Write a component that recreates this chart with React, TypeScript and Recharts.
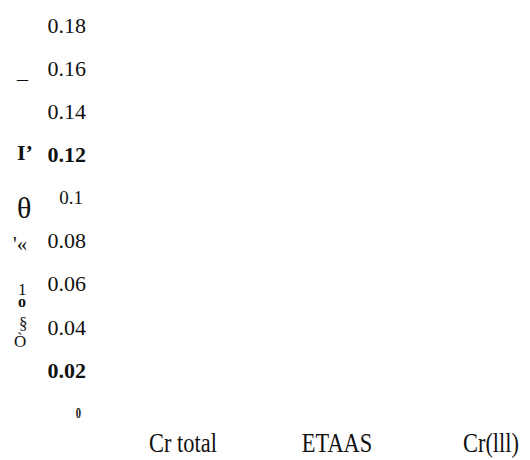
import { LineChart, Line, XAxis, YAxis } from 'recharts'

// categories along the bottom, no marks are drawn in the source picture
const categories = ['Cr total', 'ETAAS', 'Cr(lll)']
const values: (number | null)[] = [null, null, null]
const yTicks = [0, 0.02, 0.04, 0.06, 0.08, 0.1, 0.12, 0.14, 0.16, 0.18]

// garbled axis-title glyphs on the left, as they appear
const sideGlyphs = ['_', 'I’', 'θ', '\'«', '1', 'o', '§', 'Ò']

const chartData = categories.map((name, i) => ({ name, value: values[i] }))

const FONT = '"Liberation Serif", "Times New Roman", serif'
const INK = '#111'

const tickStyle: Record<string, { size: number; bold?: boolean; dx?: number; sx?: number }> = {
  '0': { size: 15, bold: true, dx: -5, sx: 0.7 },
  '0.1': { size: 19, dx: -3 },
  '0.12': { size: 22, bold: true },
  '0.02': { size: 22, bold: true },
}

const glyphPos = [
  { x: 9, y: 70, size: 22 },
  { x: 9, y: 152, size: 22, bold: true },
  { x: 9, y: 210, size: 30 },
  { x: 5, y: 243, size: 21 },
  { x: 10, y: 287, size: 17 },
  { x: 10, y: 299, size: 16, bold: true },
  { x: 11, y: 321, size: 17 },
  { x: 6, y: 339, size: 17 },
]

function YTick(props: any) {
  const { x, y, payload } = props
  const label = String(payload.value)
  const s = tickStyle[label] || { size: 22 }
  return (
    <text
      transform={`translate(${x + (s.dx || 0)},${y}) scale(${s.sx || 1},1)`}
      x={0}
      y={0}
      dy="0.355em"
      textAnchor="end"
      style={{ fontFamily: FONT, fontSize: s.size, fontWeight: s.bold ? 'bold' : 'normal' }}
      fill={INK}
    >
      {label}
    </text>
  )
}

function XTick(props: any) {
  const { x, y, payload } = props
  return (
    <text
      transform={`translate(${x},${y}) scale(0.83,1)`}
      x={0}
      y={39}
      textAnchor="middle"
      style={{ fontFamily: FONT, fontSize: 27 }}
      fill={INK}
    >
      {payload.value}
    </text>
  )
}

export default function App() {
  return (
    <div style={{ position: 'relative', width: 514, height: 452 }}>
      <LineChart
        width={514}
        height={452}
        data={chartData}
        margin={{ top: 17, right: 0, left: 0, bottom: 0 }}
      >
        <XAxis
          dataKey="name"
          height={47}
          axisLine={false}
          tickLine={false}
          tickSize={0}
          tickMargin={0}
          padding={{ left: 97, right: 31 }}
          tick={(p: any) => <XTick {...p} />}
          interval={0}
        />
        <YAxis
          type="number"
          width={78}
          domain={[0, 0.18]}
          allowDataOverflow
          ticks={yTicks}
          axisLine={false}
          tickLine={false}
          tickSize={0}
          tickMargin={0}
          tick={(p: any) => <YTick {...p} />}
          interval={0}
        />
        <Line dataKey="value" stroke="none" dot={false} isAnimationActive={false} />
      </LineChart>
      <svg
        width={80}
        height={452}
        style={{ position: 'absolute', left: 0, top: 0, pointerEvents: 'none' }}
      >
        {sideGlyphs.map((g, i) => (
          <text
            key={i}
            x={glyphPos[i].x}
            y={glyphPos[i].y}
            style={{
              fontFamily: FONT,
              fontSize: glyphPos[i].size,
              fontWeight: glyphPos[i].bold ? 'bold' : 'normal',
            }}
            fill={INK}
          >
            {g}
          </text>
        ))}
      </svg>
    </div>
  )
}
